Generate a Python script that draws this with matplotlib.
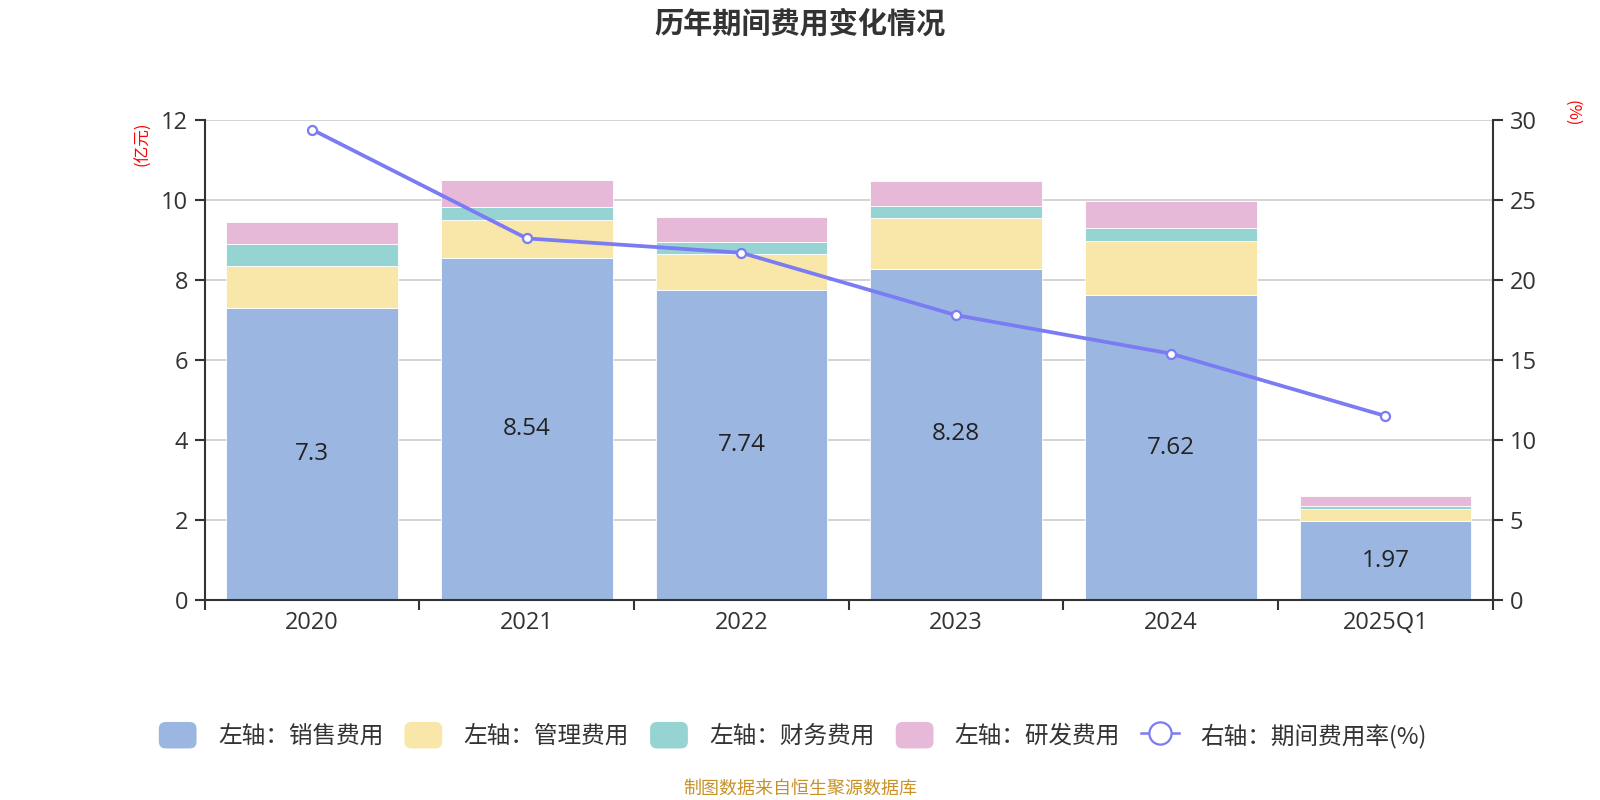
import matplotlib
matplotlib.use("Agg")
import matplotlib.pyplot as plt
import numpy as np
from matplotlib.patches import Patch, FancyBboxPatch
from matplotlib.lines import Line2D
from matplotlib.legend_handler import HandlerPatch

plt.rcParams["font.family"] = ["Noto Sans CJK SC", "DejaVu Sans"]
num_font = ["Open Sans", "DejaVu Sans"]

# data (亿元 / %)
years = ["2020", "2021", "2022", "2023", "2024", "2025Q1"]
sales = [7.30, 8.54, 7.74, 8.28, 7.62, 1.97]
admin = [1.04, 0.95, 0.91, 1.26, 1.36, 0.30]
finance = [0.55, 0.34, 0.31, 0.31, 0.31, 0.09]
rnd = [0.56, 0.67, 0.61, 0.63, 0.68, 0.23]
rate = [29.4, 22.6, 21.7, 17.8, 15.4, 11.5]

series_names = ["左轴：销售费用", "左轴：管理费用", "左轴：财务费用", "左轴：研发费用"]
line_name = "右轴：期间费用率(%)"
colors = ["#9bb7e1", "#f8e7a9", "#96d3d3", "#e7b9d8"]
line_color = "#7b7bf3"
text_color = "#333333"

fig = plt.figure(figsize=(16, 8), dpi=100)
ax = fig.add_axes([0.128, 0.25, 0.805, 0.6])
ax2 = ax.twinx()

x = np.arange(len(years))
bottom = np.zeros(len(years))
for vals, color in zip([sales, admin, finance, rnd], colors):
    ax.bar(x, vals, width=0.8, bottom=bottom, color=color,
           edgecolor="white", linewidth=0.6, zorder=2)
    bottom += np.array(vals)

for xi, v in zip(x, sales):
    ax.text(xi, v / 2, f"{v:g}", ha="center", va="center",
            fontsize=17.5, color="#222222", family=num_font, zorder=3)

ax2.plot(x, rate, color=line_color, linewidth=2.7, marker="o",
         markersize=6.5, markerfacecolor="white", markeredgecolor=line_color,
         markeredgewidth=1.6, zorder=4)

ax.set_xlim(-0.5, len(years) - 0.5)
ax.set_ylim(0, 12)
ax.set_yticks(np.arange(0, 13, 2))
ax2.set_ylim(0, 30)
ax2.set_yticks(np.arange(0, 31, 5))

ax.set_xticks(x)
ax.set_xticklabels(years)
ax.set_xticks(np.arange(-0.5, len(years), 1), minor=True)
ax.tick_params(axis="x", which="major", length=0, pad=8,
               labelsize=17, labelcolor=text_color)
ax.tick_params(axis="x", which="minor", length=7, width=1.5,
               color=text_color, direction="out")
ax.tick_params(axis="y", length=7, width=1.5, color=text_color,
               labelsize=17, labelcolor=text_color, pad=5)
ax2.tick_params(axis="y", length=7, width=1.5, color=text_color,
                labelsize=17, labelcolor=text_color, pad=5)
for lab in ax.get_xticklabels() + ax.get_yticklabels() + ax2.get_yticklabels():
    lab.set_family(num_font)

ax.yaxis.grid(True, color="#cccccc", linewidth=1.2, zorder=0)
ax.set_axisbelow(True)
for a in (ax, ax2):
    a.spines["top"].set_visible(False)
    for s in ("left", "right", "bottom"):
        a.spines[s].set_color(text_color)
        a.spines[s].set_linewidth(1.5)
ax.spines["right"].set_visible(False)
ax2.spines["left"].set_visible(False)
ax2.spines["bottom"].set_visible(False)

fig.text(0.0895, 0.82, "(亿元)", rotation=90, color="red",
         fontsize=12, ha="center", va="center")
fig.text(0.9825, 0.858, "(%)", rotation=-90, color="red",
         fontsize=12, ha="center", va="center")

fig.text(0.5, 0.971, "历年期间费用变化情况", ha="center", va="center",
         fontsize=21, fontweight="bold", color=text_color)
fig.text(0.5, 0.014, "制图数据来自恒生聚源数据库", ha="center", va="center",
         fontsize=13, color="#c8922a")


def rounded_patch(legend, orig_handle, xdescent, ydescent, width, height, fontsize):
    return FancyBboxPatch((-xdescent, -ydescent), width, height,
                          boxstyle="round,pad=0,rounding_size=5",
                          facecolor=orig_handle.get_facecolor(),
                          edgecolor="none")


handles = [Patch(facecolor=c) for c in colors]
handles.append(Line2D([], [], color=line_color, linewidth=1.8, marker="o",
                      markersize=16, markerfacecolor="white",
                      markeredgecolor=line_color, markeredgewidth=1.6))
labels = series_names + [line_name]
fig.legend(handles, labels, loc="center", bbox_to_anchor=(0.4955, 0.081),
           ncol=5, frameon=False, fontsize=17, labelcolor=text_color,
           handlelength=1.6, handleheight=1.35, handletextpad=0.9,
           columnspacing=0.9,
           handler_map={Patch: HandlerPatch(patch_func=rounded_patch)})

fig.savefig("out.png", dpi=100)
